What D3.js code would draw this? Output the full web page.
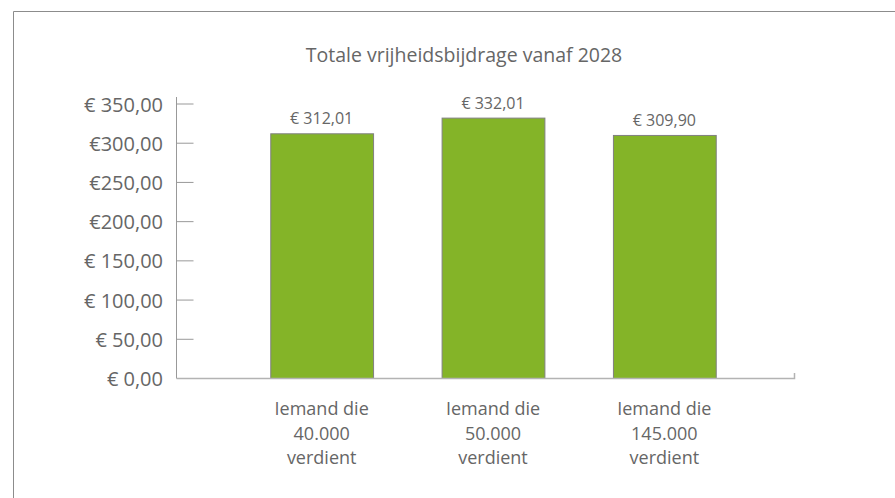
<!DOCTYPE html>
<html lang="nl">
<head>
<meta charset="UTF-8">
<title>Totale vrijheidsbijdrage vanaf 2028</title>
<style>
  * { margin: 0; padding: 0; box-sizing: border-box; }
  body { background: #fff; font-family: "Open Sans", "Noto Sans", sans-serif; overflow: hidden; }
  svg text { fill: #666; }
</style>
</head>
<body>
<svg id="chart" width="895" height="498"></svg>
<script src="https://d3js.org/d3.v7.min.js"></script>
<script>
  // Data
  const categories = [
    ["Iemand die", "40.000", "verdient"],
    ["Iemand die", "50.000", "verdient"],
    ["Iemand die", "145.000", "verdient"]
  ];
  const values = [312.01, 332.01, 309.90];
  const valueLabels = ["€ 312,01", "€ 332,01", "€ 309,90"];
  const tickValues = [0, 50, 100, 150, 200, 250, 300, 350];
  const tickLabels = ["€ 0,00", "€ 50,00", "€ 100,00", "€ 150,00", "€200,00", "€250,00", "€300,00", "€ 350,00"];
  const title = "Totale vrijheidsbijdrage vanaf 2028";

  const svg = d3.select("#chart");

  // Frame (left + top edges)
  svg.append("path").attr("d", "M13.5,498 V11.5 H895")
    .attr("fill", "none").attr("stroke", "#8c8c8c").attr("stroke-width", 1);

  svg.append("text").attr("x", 464).attr("y", 62).attr("text-anchor", "middle")
    .attr("font-size", 19.5).text(title);

  // Scales
  const y = d3.scaleLinear().domain([0, 350]).range([378, 103.5]);
  const x = d3.scaleBand().domain(d3.range(categories.length)).range([236, 750]).paddingInner(0.4).paddingOuter(0.2);

  // Y axis
  const yAxis = d3.axisRight(y).tickValues(tickValues).tickSize(17).tickFormat("");
  const yg = svg.append("g").attr("transform", "translate(176.5,0)").call(yAxis);
  yg.select(".domain").attr("d", "M0,97V378").attr("stroke", "#999");
  yg.selectAll(".tick line").attr("stroke", "#999");

  svg.append("g").selectAll("text").data(tickValues).join("text")
    .attr("x", 163).attr("y", d => y(d) + 8).attr("text-anchor", "end")
    .attr("font-size", 20).text((d, i) => tickLabels[i]);

  // Bars
  svg.append("g").selectAll("rect").data(values).join("rect")
    .attr("x", (d, i) => x(i) + 0.5).attr("y", d => y(d) + 0.5)
    .attr("width", x.bandwidth()).attr("height", d => y(0) - y(d))
    .attr("fill", "#84b428").attr("stroke", "#808080").attr("stroke-width", 1);

  // Value labels
  svg.append("g").selectAll("text").data(values).join("text")
    .attr("x", (d, i) => x(i) + x.bandwidth() / 2).attr("y", d => y(d) - 9)
    .attr("text-anchor", "middle").attr("font-size", 16).text((d, i) => valueLabels[i]);

  // X axis line
  svg.append("path").attr("d", "M176.5,378.5 H794.5 V373")
    .attr("fill", "none").attr("stroke", "#b3b3b3").attr("stroke-width", 1.5);

  // Category labels
  const cat = svg.append("g").selectAll("text").data(categories).join("text")
    .attr("text-anchor", "middle").attr("font-size", 18);
  cat.selectAll("tspan").data((d, i) => d.map(s => ({ s, i }))).join("tspan")
    .attr("x", d => x(d.i) + x.bandwidth() / 2)
    .attr("y", (d, j) => 415 + j * 24.5)
    .text(d => d.s);
</script>
</body>
</html>
